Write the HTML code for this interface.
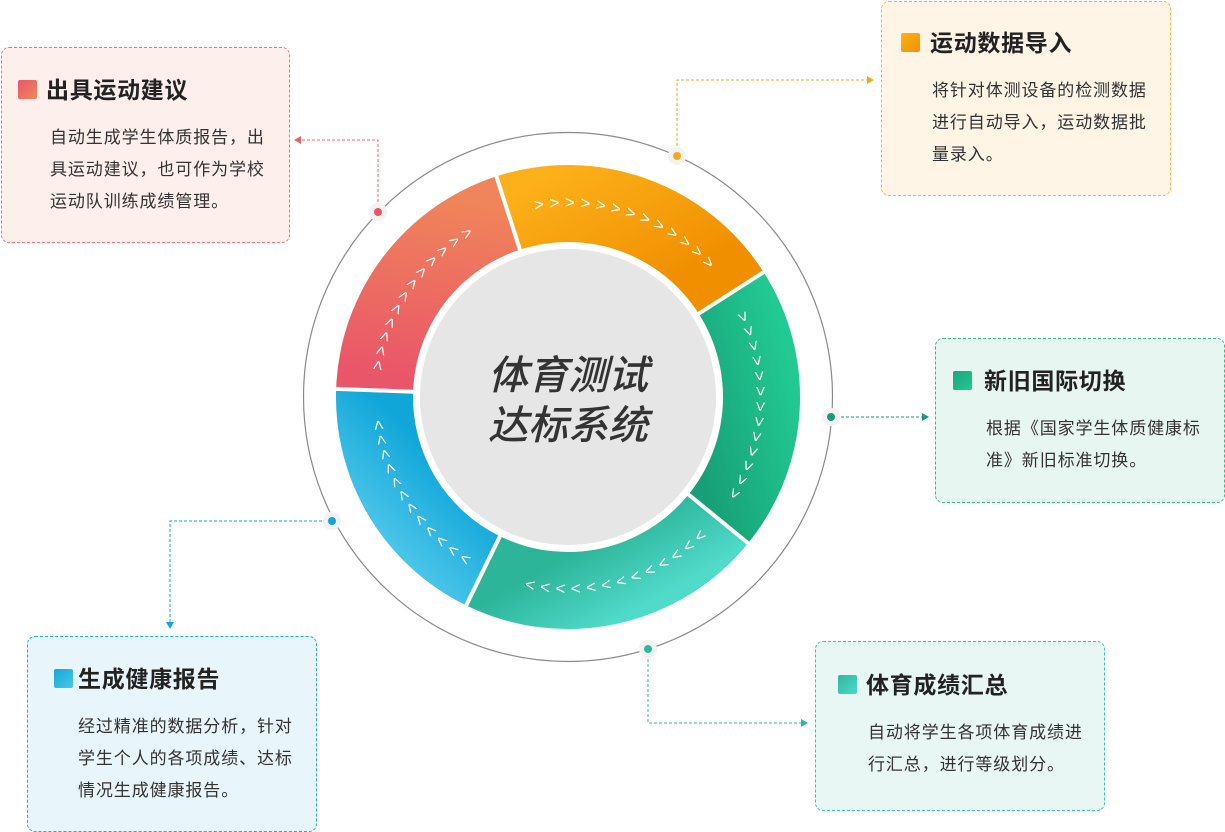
<!DOCTYPE html>
<html><head><meta charset="utf-8"><style>
body{margin:0;width:1225px;height:832px;background:#fff;position:relative;overflow:hidden;font-family:"Liberation Sans","Noto Sans CJK SC",sans-serif;}
.box{position:absolute;border:1px dashed;border-radius:8px;box-sizing:border-box;}
.t{position:absolute;font-size:23px;letter-spacing:0.7px;font-weight:bold;color:#222;line-height:26px;white-space:nowrap;}
.ic{position:absolute;width:19px;height:19px;border-radius:2px;}
.b{position:absolute;font-size:17px;letter-spacing:0.9px;color:#333;line-height:32px;white-space:nowrap;}
svg{position:absolute;left:0;top:0;}
</style></head><body>
<div class="box" style="left:1px;top:47px;width:289px;height:196px;background:#fcefec;border-color:#e9777a"></div>
<div class="ic" style="left:18px;top:80px;background:linear-gradient(135deg,#e95569,#f0895a)"></div>
<div class="t" style="left:46px;top:77px">出具运动建议</div>
<div class="b" style="left:50px;top:122px">自动生成学生体质报告，出<br>具运动建议，也可作为学校<br>运动队训练成绩管理。</div>

<div class="box" style="left:881px;top:1px;width:290px;height:195px;background:#fef5e7;border-color:#f6b448"></div>
<div class="ic" style="left:901px;top:33px;background:linear-gradient(135deg,#fbb117,#f29100)"></div>
<div class="t" style="left:930px;top:30px">运动数据导入</div>
<div class="b" style="left:932px;top:75px">将针对体测设备的检测数据<br>进行自动导入，运动数据批<br>量录入。</div>

<div class="box" style="left:935px;top:338px;width:290px;height:165px;background:#e8f6f1;border-color:#3bb58e"></div>
<div class="ic" style="left:953px;top:371px;background:linear-gradient(135deg,#1aa57b,#22c992)"></div>
<div class="t" style="left:984px;top:368px">新旧国际切换</div>
<div class="b" style="left:986px;top:413px">根据《国家学生体质健康标<br>准》新旧标准切换。</div>

<div class="box" style="left:815px;top:641px;width:290px;height:170px;background:#e9f7f4;border-color:#3cc0a8"></div>
<div class="ic" style="left:838px;top:675px;background:linear-gradient(135deg,#2fb89e,#4dd8c8)"></div>
<div class="t" style="left:866px;top:672px">体育成绩汇总</div>
<div class="b" style="left:868px;top:717px">自动将学生各项体育成绩进<br>行汇总，进行等级划分。</div>

<div class="box" style="left:27px;top:636px;width:290px;height:196px;background:#e8f5fa;border-color:#29a9d9"></div>
<div class="ic" style="left:54px;top:669px;background:linear-gradient(135deg,#13a8d8,#4cc6ea)"></div>
<div class="t" style="left:78px;top:666px">生成健康报告</div>
<div class="b" style="left:78px;top:711px">经过精准的数据分析，针对<br>学生个人的各项成绩、达标<br>情况生成健康报告。</div>

<svg width="1225" height="832" viewBox="0 0 1225 832">
<defs>
<linearGradient id="go" x1="568" y1="165" x2="640" y2="300" gradientUnits="userSpaceOnUse"><stop offset="0" stop-color="#fcb019"/><stop offset="1" stop-color="#f08f00"/></linearGradient>
<linearGradient id="gg" x1="690" y1="430" x2="800" y2="400" gradientUnits="userSpaceOnUse"><stop offset="0" stop-color="#17a077"/><stop offset="1" stop-color="#22c992"/></linearGradient>
<linearGradient id="gt" x1="560" y1="560" x2="600" y2="630" gradientUnits="userSpaceOnUse"><stop offset="0" stop-color="#2db59a"/><stop offset="1" stop-color="#4fdac9"/></linearGradient>
<linearGradient id="gb" x1="430" y1="450" x2="360" y2="520" gradientUnits="userSpaceOnUse"><stop offset="0" stop-color="#10a6d8"/><stop offset="1" stop-color="#4cc6ea"/></linearGradient>
<linearGradient id="gr" x1="440" y1="200" x2="420" y2="380" gradientUnits="userSpaceOnUse"><stop offset="0" stop-color="#f0845a"/><stop offset="1" stop-color="#e95569"/></linearGradient>
<path id="po" d="M534.1,205 A195,195 0 0 1 717.4,271.7"/>
<path id="pg" d="M741.5,312.4 A193,193 0 0 1 729.9,502.1"/>
<path id="pt" d="M703.8,532.8 A192,192 0 0 1 508.7,579.6"/>
<path id="pb" d="M469.1,561.6 A192,192 0 0 1 376.5,410.4"/>
<path id="pr" d="M376.9,370.1 A193,193 0 0 1 477.4,226.6"/>
</defs>
<circle cx="568" cy="397" r="264.5" fill="none" stroke="#8a8a8a" stroke-width="1.2"/>
<path d="M496.3,176.4 A232,232 0 0 1 763.5,272 L698.6,313.5 A155,155 0 0 0 520.1,249.6Z" fill="url(#go)"/>
<path d="M763.5,272 A232,232 0 0 1 748.3,543 L688.5,494.5 A155,155 0 0 0 698.6,313.5Z" fill="url(#gg)"/>
<path d="M748.3,543 A232,232 0 0 1 466.3,605.5 L500,536.3 A155,155 0 0 0 688.5,494.5Z" fill="url(#gt)"/>
<path d="M466.3,605.5 A232,232 0 0 1 336.1,388.9 L413.1,391.6 A155,155 0 0 0 500,536.3Z" fill="url(#gb)"/>
<path d="M336.1,388.9 A232,232 0 0 1 496.3,176.4 L520.1,249.6 A155,155 0 0 0 413.1,391.6Z" fill="url(#gr)"/>
<g stroke="#fff" stroke-width="4">
<line x1="494" y1="169" x2="522" y2="256"/>
<line x1="770" y1="268" x2="692" y2="318"/>
<line x1="754" y1="548" x2="683" y2="490"/>
<line x1="463" y1="612" x2="503" y2="530"/>
<line x1="329" y1="388.6" x2="420" y2="392"/>
</g>
<circle cx="568" cy="397" r="148" fill="#e6e6e6"/>
<g fill="#fff" font-family="Liberation Sans" font-size="17" dominant-baseline="central">
<text letter-spacing="5.6"><textPath href="#po">&gt;&gt;&gt;&gt;&gt;&gt;&gt;&gt;&gt;&gt;&gt;&gt;&gt;</textPath></text>
<text letter-spacing="5.4"><textPath href="#pg">&gt;&gt;&gt;&gt;&gt;&gt;&gt;&gt;&gt;&gt;&gt;&gt;&gt;</textPath></text>
<text letter-spacing="5.4"><textPath href="#pt">&gt;&gt;&gt;&gt;&gt;&gt;&gt;&gt;&gt;&gt;&gt;&gt;&gt;</textPath></text>
<text letter-spacing="5"><textPath href="#pb">&gt;&gt;&gt;&gt;&gt;&gt;&gt;&gt;&gt;&gt;&gt;&gt;</textPath></text>
<text letter-spacing="5"><textPath href="#pr">&gt;&gt;&gt;&gt;&gt;&gt;&gt;&gt;&gt;&gt;&gt;&gt;</textPath></text>
</g>
<g font-family="Liberation Sans,Noto Sans CJK SC,sans-serif" font-size="40" font-style="italic" font-weight="500" fill="#333" text-anchor="middle">
<text x="568" y="389">体育测试</text>
<text x="568" y="439">达标系统</text>
</g>
<g fill="none" stroke-width="1" stroke-dasharray="3,2">
<polyline points="677,156 677,80 868,80" stroke="#f6a81c"/>
<polyline points="378,212 378,140 300,140" stroke="#e9636c"/>
<polyline points="831,417 923,417" stroke="#1a9a78"/>
<polyline points="648,649 648,723 802,723" stroke="#2fb89e"/>
<polyline points="332,521 170,521 170,623" stroke="#14a6d6"/>
</g>
<polygon points="874,80 867,76 867,84" fill="#f6a81c"/>
<polygon points="294,140 301,136 301,144" fill="#e9636c"/>
<polygon points="929,417 922,413 922,421" fill="#1a9a78"/>
<polygon points="808,723 801,719 801,727" fill="#2fb89e"/>
<polygon points="170,629 166,622 174,622" fill="#14a6d6"/>
<g>
<circle cx="677" cy="156" r="9" fill="#f2f2f2"/><circle cx="677" cy="156" r="4" fill="#f6a81c"/>
<circle cx="378" cy="212" r="9" fill="#f2f2f2"/><circle cx="378" cy="212" r="4" fill="#e9555f"/>
<circle cx="831" cy="417" r="9" fill="#f2f2f2"/><circle cx="831" cy="417" r="4" fill="#1a9a78"/>
<circle cx="648" cy="649" r="9" fill="#f2f2f2"/><circle cx="648" cy="649" r="4" fill="#2fb89e"/>
<circle cx="332" cy="521" r="9" fill="#f2f2f2"/><circle cx="332" cy="521" r="4" fill="#14a6d6"/>
</g>
</svg>
</body></html>
